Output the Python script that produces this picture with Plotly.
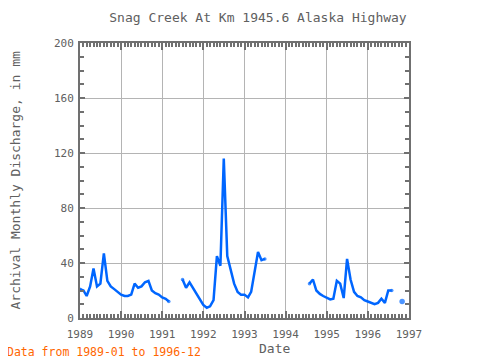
import plotly.graph_objects as go
import pandas as pd

# Monthly dates, 1989-01 .. 1996-12
dates = pd.date_range("1989-01-01", periods=96, freq="MS")
N = None
discharge = [
    21, 20, 16, 23, 36, 23, 25, 47, 27, 23, 21, 19,        # 1989
    17, 16, 16, 17, 25, 22, 23, 26, 27, 20, 18, 17,        # 1990
    15, 14, 12, N, N, N, 28, 22, 26, 22, 18, 14,           # 1991
    9.5, 7.5, 8.5, 13, 45, 38, 116, 45, 35, 25, 19, 17,    # 1992
    17, 15, 19, 33, 48, 42, 43, N, N, N, N, N,             # 1993
    N, N, N, N, N, N, N, 25, 28, 20, 17.5, 16,             # 1994
    15, 13.5, 14, 27, 25, 14.5, 43, 28, 19, 16, 15, 13,    # 1995
    12, 11, 10, 11, 14, 11, 20, 20, N, N, 12, N,           # 1996
]

title_text = "Snag Creek At Km 1945.6 Alaska Highway"
y_title = "Archival Monthly Discharge, in mm"
x_title = "Date"
note_text = "Data from 1989-01 to 1996-12"

FONT = "DejaVu Sans Mono"
GREY = "#606060"
AXC = "#707070"

# The page body adds an 8 px offset, so the figure is drawn 8 px smaller.
OFF = 8
W, H = 480 - OFF, 360 - OFF
PL, PR, PT, PB = 80, 409, 43, 318  # plot area in window pixels
PW, PH = PR - PL, PB - PT

def px(x):
    return (x - PL) / PW

def py(y):
    return (PB - y) / PH

# marker sizes: show a dot where a value has no neighbours (isolated)
sizes = []
for i, v in enumerate(discharge):
    prev_v = discharge[i - 1] if i > 0 else None
    next_v = discharge[i + 1] if i < len(discharge) - 1 else None
    if v is None:
        sizes.append(0)
    elif prev_v is None and next_v is None:
        sizes.append(5.5)
    elif prev_v is None or next_v is None:
        sizes.append(3.5)
    else:
        sizes.append(0)

fig = go.Figure()
fig.add_trace(go.Scatter(
    x=dates, y=discharge, mode="lines+markers",
    line=dict(color="#0066ff", width=2.5),
    marker=dict(color="#0066ff", size=sizes, line=dict(width=0)),
    connectgaps=False, showlegend=False,
))

fig.update_layout(
    width=W, height=H, autosize=False,
    margin=dict(l=PL - OFF, r=W - (PR - OFF), t=PT - OFF, b=H - (PB - OFF)),
    paper_bgcolor="white", plot_bgcolor="white",
    font=dict(family=FONT, color=GREY, size=11),
    title=dict(text=title_text, x=(258 - OFF) / W, xanchor="center",
               y=1 - (17 - OFF) / H, yanchor="middle", yref="container",
               font=dict(family=FONT, size=13, color=GREY)),
    xaxis=dict(
        type="date", range=["1989-01-01", "1997-01-01"],
        tick0="1989-01-01", dtick="M12", tickformat="%Y",
        ticks="inside", ticklen=7, tickwidth=2, tickcolor=AXC,
        showline=True, linecolor=AXC, linewidth=2, mirror="ticks",
        showgrid=True, gridcolor="#b4b4b4", gridwidth=1,
        tickfont=dict(family=FONT, size=11, color=GREY),
        ticklabelstandoff=5,
        minor=dict(dtick="M1", tick0="1989-01-01", ticks="inside",
                   ticklen=4, tickwidth=2, tickcolor=AXC, showgrid=False),
    ),
    yaxis=dict(
        range=[0, 200], tick0=0, dtick=40,
        ticks="inside", ticklen=5, tickwidth=2, tickcolor=AXC,
        showline=True, linecolor=AXC, linewidth=2, mirror="ticks",
        showgrid=True, gridcolor="#b4b4b4", gridwidth=1, zeroline=False,
        tickfont=dict(family=FONT, size=11, color=GREY),
        ticklabelstandoff=2,
        minor=dict(dtick=10, tick0=0, ticks="inside", ticklen=4,
                   tickwidth=2, tickcolor=AXC, showgrid=False),
    ),
    annotations=[
        dict(text=y_title, textangle=-90, x=px(15), y=0.5, xref="paper", yref="paper",
             xanchor="center", yanchor="middle", showarrow=False,
             font=dict(family=FONT, size=13, color=GREY)),
        dict(text=x_title, x=px(274), y=py(348), xref="paper", yref="paper",
             xanchor="center", yanchor="middle", showarrow=False,
             font=dict(family=FONT, size=13, color=GREY)),
        dict(text=note_text, x=px(5), y=py(352), xref="paper", yref="paper",
             xanchor="left", yanchor="middle", showarrow=False,
             font=dict(family=FONT, size=11.5, color="#ff6600")),
    ],
)

fig.write_html("out.html")
